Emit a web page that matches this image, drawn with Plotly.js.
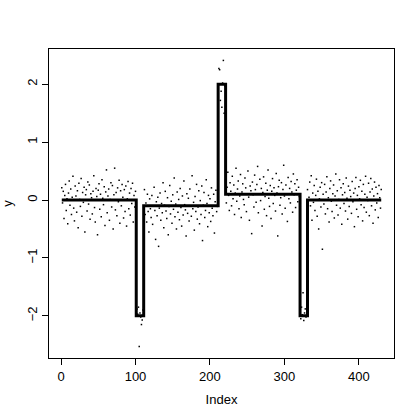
<!DOCTYPE html>
<html>
<head>
<meta charset="utf-8">
<script src="https://cdn.plot.ly/plotly-3.0.1.min.js"></script>
<style>html,body{margin:0;padding:0;background:#fff;}#chart{width:420px;height:420px;}</style>
</head>
<body>
<div id="chart"></div>
<script>
// Step-function levels and segment lengths
const levels = [0, -2, -0.1, 2, 0.1, -2, 0];
const lengths = [100, 10, 100, 10, 100, 10, 100];

const seg1 = [0.21,-0.05,0.15,-0.32,0.08,0.27,-0.18,0.02,-0.41,0.12,
0.33,-0.09,0.19,-0.25,0.05,0.41,-0.14,-0.36,0.24,0.07,
-0.21,0.16,-0.48,0.29,0.01,-0.11,0.37,-0.28,0.13,-0.04,
0.22,-0.55,0.09,0.18,-0.19,0.31,-0.07,0.26,-0.33,0.11,
0.04,-0.24,0.15,0.42,-0.13,-0.38,0.2,0.06,-0.6,0.17,
0.28,-0.16,0.1,-0.29,0.35,0.03,-0.08,0.23,-0.44,0.14,
0.52,-0.22,0.07,0.19,-0.35,0.01,0.3,-0.12,0.25,-0.5,
0.09,0.55,-0.17,0.13,-0.27,0.21,-0.03,0.34,-0.4,0.16,
-0.1,0.27,0.05,-0.31,0.18,-0.2,0.24,-0.45,0.02,0.32,
-0.15,0.12,-0.26,0.2,-0.06,0.29,-0.38,0.08,-0.12,0.15];
const seg2 = [-1.92,-1.88,-1.97,-1.85,-2.53,-1.95,-2.02,-2.15,-2.07,-1.9];
const seg3 = [-0.12,0.18,-0.25,-0.05,-0.38,0.1,-0.2,-0.55,0.02,-0.15,
-0.3,0.08,-0.42,-0.1,0.22,-0.18,-0.68,-0.03,-0.27,0.05,
-0.8,-0.14,0.12,-0.35,-0.06,-0.22,0.3,-0.48,-0.09,0.15,
-0.19,-0.32,0.04,-0.6,-0.11,0.25,-0.24,-0.02,-0.4,0.09,
-0.16,0.38,-0.29,-0.07,-0.5,0.14,-0.21,0.01,-0.34,0.2,
-0.13,-0.45,0.07,-0.26,0.33,-0.08,-0.17,-0.62,0.11,-0.23,
0.03,-0.36,0.19,-0.1,-0.28,0.42,-0.15,-0.04,-0.52,0.06,
-0.2,0.27,-0.33,-0.12,0.16,-0.41,-0.01,-0.25,0.24,-0.7,
-0.09,0.13,-0.3,-0.18,0.35,-0.06,-0.46,0.08,-0.22,0.02,
-0.37,0.21,-0.14,-0.27,0.1,-0.57,-0.03,0.17,-0.2,-0.11];
const seg4 = [1.95,2.27,2.25,1.72,1.88,1.6,2.02,2.41,1.5,1.97];
const seg5 = [0.35,-0.05,0.22,0.48,0.08,-0.18,0.3,0.15,-0.1,0.41,
0.02,0.26,-0.25,0.12,0.55,-0.02,0.19,0.33,-0.15,0.07,
0.44,-0.3,0.14,0.28,0.01,-0.08,0.38,0.21,-0.2,0.1,
0.5,0.05,-0.35,0.24,0.16,-0.58,0.31,0.09,-0.12,0.43,
0.18,-0.04,0.27,0.58,-0.22,0.11,0.36,-0.01,0.2,-0.45,
0.13,0.4,-0.16,0.06,0.29,-0.27,0.17,0.52,0.03,-0.11,
0.25,-0.32,0.15,0.37,-0.06,0.21,0.08,-0.19,0.46,0.12,
-0.62,0.23,0.34,-0.09,0.04,0.3,-0.24,0.18,0.6,0.07,
-0.14,0.26,0.1,-0.37,0.39,0.02,0.2,-0.05,0.32,0.14,
-0.21,0.45,0.09,0.28,-0.13,0.17,0.35,-0.03,0.22,0.06];
const seg6 = [-1.9,-2.05,-1.85,-1.98,-1.6,-2.08,-1.95,-1.88,-2.02,-1.93];
const seg7 = [0.18,-0.22,0.05,0.31,-0.1,0.42,-0.35,0.12,-0.04,0.25,
-0.18,0.08,0.36,-0.28,0.15,-0.5,0.02,0.22,-0.12,0.3,
-0.85,0.1,-0.07,0.27,-0.24,0.14,0.4,-0.15,0.04,-0.38,
0.2,0.33,-0.02,-0.2,0.11,0.26,-0.31,0.07,0.45,-0.09,
0.16,-0.26,0.01,0.35,-0.14,0.21,-0.42,0.09,0.28,-0.06,
0.13,-0.19,0.38,0.03,-0.33,0.24,-0.11,0.17,0.06,-0.23,
0.32,-0.03,0.12,-0.46,0.2,0.39,-0.16,0.08,-0.29,0.23,
0.02,0.34,-0.08,0.15,-0.36,0.27,-0.13,0.1,0.41,-0.21,
0.05,-0.01,0.29,-0.27,0.14,0.37,-0.1,0.19,-0.4,0.07,
0.31,-0.17,0.22,-0.05,0.11,-0.3,0.25,0.04,-0.14,0.18];

const xTicks = [0, 100, 200, 300, 400];
const yTicks = [-2, -1, 0, 1, 2];

const yObs = [].concat(seg1, seg2, seg3, seg4, seg5, seg6, seg7);
const idx = yObs.map((_, i) => i + 1);
const fStep = [];
levels.forEach((lv, k) => { for (let j = 0; j < lengths[k]; j++) fStep.push(lv); });

// R-style 4% axis extension
function rng(arr) {
  const mn = Math.min(...arr), mx = Math.max(...arr), d = (mx - mn) * 0.04;
  return [mn - d, mx + d];
}
const xr = rng(idx);
const yr = rng(yObs.concat(fStep));

const font = {family: 'Liberation Sans, Arial, sans-serif', size: 13, color: '#000'};

const traces = [
  {x: idx, y: yObs, type: 'scatter', mode: 'markers',
   marker: {symbol: 'square', size: 1.5, color: '#000', line: {width: 0}},
   hoverinfo: 'skip'},
  {x: idx, y: fStep, type: 'scatter', mode: 'lines',
   line: {shape: 'hv', color: '#000', width: 3}, hoverinfo: 'skip'}
];

const axisCommon = {
  showline: true, mirror: true, linecolor: '#000', linewidth: 1,
  ticks: 'outside', ticklen: 6, tickcolor: '#000', tickwidth: 1,
  showgrid: false, zeroline: false, tickfont: font
};

const layout = {
  width: 420, height: 420,
  margin: {l: 49, r: 26, t: 49, b: 62},
  paper_bgcolor: '#fff', plot_bgcolor: '#fff',
  showlegend: false, font: font,
  xaxis: Object.assign({}, axisCommon, {
    range: xr, tickvals: xTicks, ticktext: xTicks.map(String),
    title: {text: 'Index', font: font, standoff: 12}
  }),
  yaxis: Object.assign({}, axisCommon, {
    range: yr, tickvals: yTicks, ticktext: yTicks.map(v => v < 0 ? '\u2212' + Math.abs(v) : String(v)),
    tickangle: -90,
    title: {text: 'y', font: font, standoff: 12}
  })
};

Plotly.newPlot('chart', traces, layout, {staticPlot: true, displayModeBar: false});
</script>
</body>
</html>
